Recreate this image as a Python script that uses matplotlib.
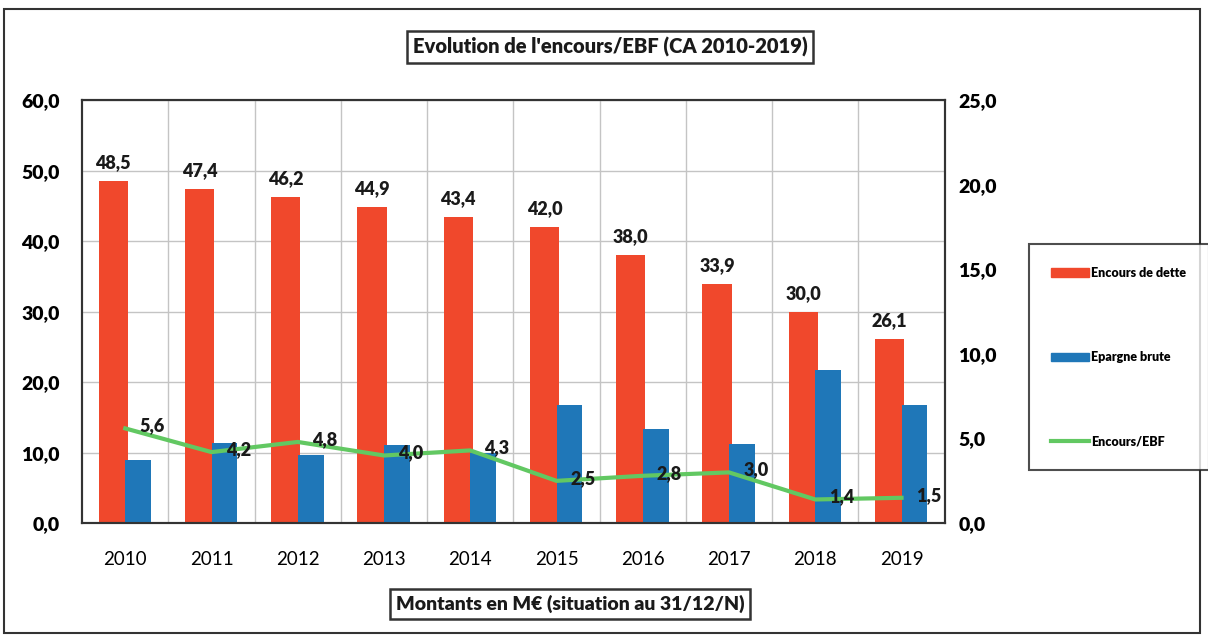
import matplotlib
matplotlib.use("Agg")
import matplotlib.pyplot as plt
import numpy as np
from matplotlib.patches import Patch, Rectangle
from matplotlib.lines import Line2D

# --- donnees ---
annees = ["2010", "2011", "2012", "2013", "2014", "2015", "2016", "2017", "2018", "2019"]
encours_dette = [48.5, 47.4, 46.2, 44.9, 43.4, 42.0, 38.0, 33.9, 30.0, 26.1]
epargne_brute = [8.9, 11.4, 9.6, 11.1, 10.0, 16.7, 13.3, 11.2, 21.7, 16.7]
encours_ebf = [5.6, 4.2, 4.8, 4.0, 4.3, 2.5, 2.8, 3.0, 1.4, 1.5]

ROUGE = "#F0482C"
BLEU = "#1F77B8"
VERT = "#62C862"
FONT = ["Lato", "DejaVu Sans"]

def fr(v):
    return f"{v:.1f}".replace(".", ",")

fig = plt.figure(figsize=(12.08, 6.38), dpi=100)
ax = fig.add_axes([0.068, 0.180, 0.714, 0.663])
ax2 = ax.twinx()

x = np.arange(len(annees))
ax.bar(x - 0.14, encours_dette, width=0.34, color=ROUGE, zorder=2)
ax.bar(x + 0.15, epargne_brute, width=0.30, color=BLEU, zorder=3)

for xi, v in zip(x, encours_dette):
    ax.text(xi - 0.14, v + 1.4, fr(v), ha="center", va="bottom",
            fontsize=13, fontweight="heavy", family=FONT, color="#1a1a1a")

ax2.plot(x, encours_ebf, color=VERT, lw=3, zorder=4)
for xi, v in zip(x, encours_ebf):
    ax2.text(xi + 0.31, v + 0.15, fr(v), ha="center", va="center",
             fontsize=13, fontweight="heavy", family=FONT, color="#1a1a1a", zorder=5)

ax.set_xlim(-0.5, 9.5)
ax.set_ylim(0, 60)
ax2.set_ylim(0, 25)
ax.set_yticks(np.arange(0, 61, 10))
ax2.set_yticks(np.arange(0, 26, 5))
ax.set_yticklabels([fr(v) for v in np.arange(0, 61, 10)], fontsize=14,
                   fontweight="heavy", family=FONT)
ax2.set_yticklabels([fr(v) for v in np.arange(0, 26, 5)], fontsize=14,
                    fontweight="heavy", family=FONT)
ax.set_xticks(x)
ax.set_xticklabels(annees, fontsize=13.5, family=FONT)
ax.tick_params(axis="x", length=0, pad=20)
ax.tick_params(axis="y", length=0, pad=16)
ax2.tick_params(axis="y", length=0, pad=10)

# grille
ax.set_xticks(x[:-1] + 0.5, minor=True)
ax.tick_params(axis="x", which="minor", length=0)
ax.grid(axis="y", color="#c4c4c4", lw=1, zorder=0)
ax.grid(axis="x", which="minor", color="#c4c4c4", lw=1, zorder=0)
ax.set_axisbelow(True)
for s in list(ax.spines.values()) + list(ax2.spines.values()):
    s.set_color("#333333")
    s.set_linewidth(1.5)

# titres encadres
fig.text(0.505, 0.926, "Evolution de l'encours/EBF (CA 2010-2019)", ha="center", va="center",
         fontsize=14.5, fontweight="heavy", family=FONT, color="#1a1a1a",
         bbox=dict(boxstyle="square,pad=0.3", fc="white", ec="#333333", lw=1.8))
fig.text(0.472, 0.053, "Montants en M€ (situation au 31/12/N)", ha="center", va="center",
         fontsize=14, fontweight="heavy", family=FONT, color="#1a1a1a",
         bbox=dict(boxstyle="square,pad=0.3", fc="white", ec="#333333", lw=1.8))

# legende
handles = [Patch(facecolor=ROUGE, edgecolor=ROUGE),
           Patch(facecolor=BLEU, edgecolor=BLEU),
           Line2D([0], [0], color=VERT, lw=3)]
leg = fig.legend(handles, ["Encours de dette", "Epargne brute", "Encours/EBF"],
                 loc="center", bbox_to_anchor=(0.926, 0.44),
                 prop=dict(family=FONT, weight="heavy", size=9),
                 frameon=True, fancybox=False, edgecolor="#222222",
                 handlelength=3.0, handleheight=0.7, handletextpad=0.2,
                 labelspacing=5.8, borderpad=1.8, borderaxespad=0)
leg.get_frame().set_linewidth(1.5)

# cadre exterieur
fig.patches.append(Rectangle((0.003, 0.008), 0.990, 0.978, transform=fig.transFigure,
                             fill=False, ec="#333333", lw=1.5))

fig.savefig("out.png", dpi=100)
